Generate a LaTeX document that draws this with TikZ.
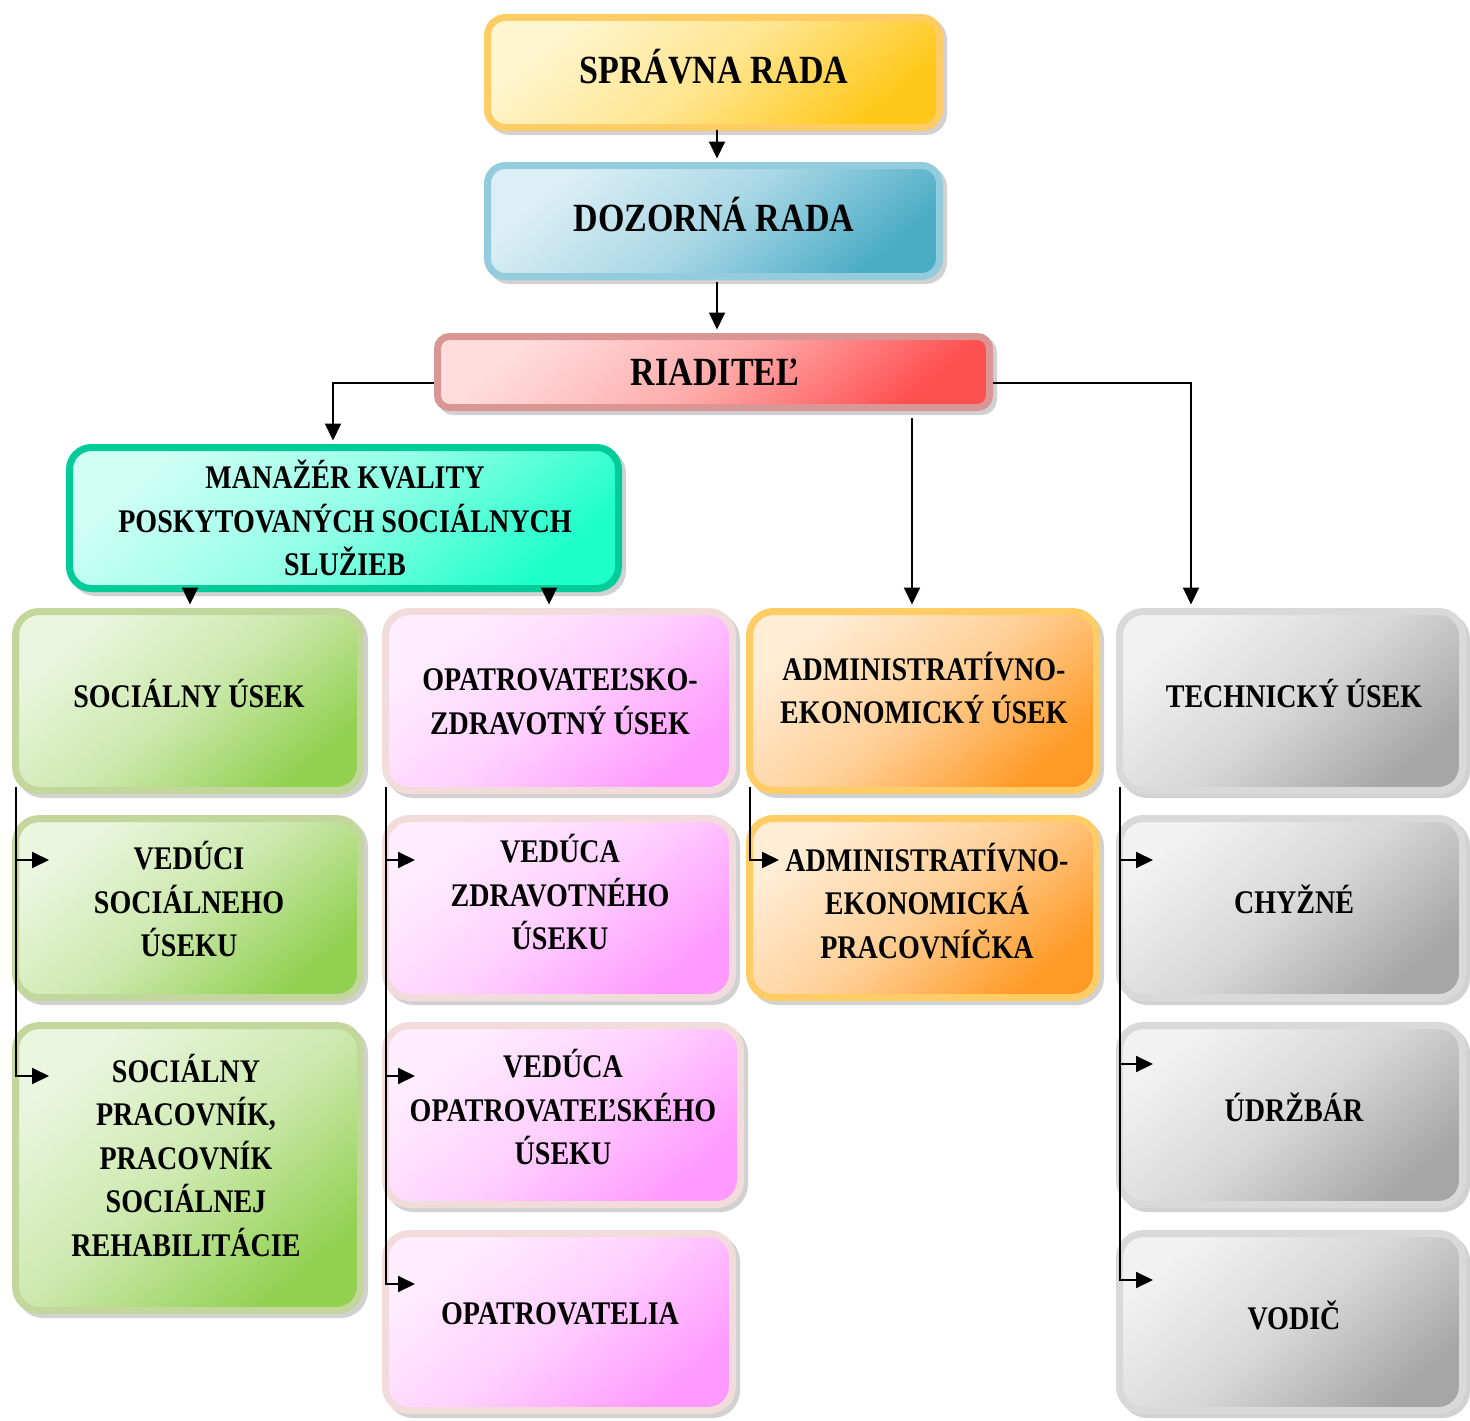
\documentclass[tikz,border=0pt]{standalone}
\usepackage{fontspec}
\newfontfamily\bxfont{Liberation Serif}[FakeStretch=0.85]
\usetikzlibrary{arrows.meta,calc}
\definecolor{yBord}{HTML}{FFCC66}\definecolor{yL}{HTML}{FFF5CF}\definecolor{yD}{HTML}{FFC81A}
\definecolor{bBord}{HTML}{93CDDD}\definecolor{bL}{HTML}{DDEFF6}\definecolor{bD}{HTML}{4BACC6}
\definecolor{rBord}{HTML}{D99694}\definecolor{rL}{HTML}{FFDDDD}\definecolor{rD}{HTML}{FF5050}
\definecolor{tBord}{HTML}{00CC99}\definecolor{tL}{HTML}{D0FFF4}\definecolor{tD}{HTML}{1FFFCC}
\definecolor{gBord}{HTML}{C3D69B}\definecolor{gL}{HTML}{EBF6E0}\definecolor{gD}{HTML}{92D050}
\definecolor{pBord}{HTML}{F2DCDB}\definecolor{pL}{HTML}{FFEEFF}\definecolor{pD}{HTML}{FF99FF}
\definecolor{oBord}{HTML}{FFCC66}\definecolor{oL}{HTML}{FFEDD6}\definecolor{oD}{HTML}{FF9A26}
\definecolor{kBord}{HTML}{D9D9D9}\definecolor{kL}{HTML}{F2F2F2}\definecolor{kD}{HTML}{A6A6A6}
\tikzset{
  box/.style={rectangle, line width=7pt, inner sep=0pt,
    preaction={draw=black!18, fill=black!18, transform canvas={xshift=4pt,yshift=-4pt}}},
  colbox/.style n args={3}{box, draw=#1, top color=#2, bottom color=#3, middle color=#2!65!#3, shading angle=40},
  ybox/.style={colbox={yBord}{yL}{yD}, rounded corners=18pt},
  bbox/.style={colbox={bBord}{bL}{bD}, rounded corners=18pt},
  rbox/.style={colbox={rBord}{rL}{rD}, rounded corners=12pt},
  tbox/.style={colbox={tBord}{tL}{tD}, rounded corners=22pt},
  gbox/.style={colbox={gBord}{gL}{gD}, rounded corners=24pt},
  pbox/.style={colbox={pBord}{pL}{pD}, rounded corners=24pt},
  obox/.style={colbox={oBord}{oL}{oD}, rounded corners=24pt},
  kbox/.style={colbox={kBord}{kL}{kD}, rounded corners=24pt},
  lbl/.style={font=\bxfont\bfseries\fontsize{33}{43.5}\selectfont, align=center, inner sep=0pt},
  big/.style={font=\bxfont\bfseries\fontsize{40}{46}\selectfont, inner sep=0pt},
  arr/.style={line width=2pt, -{Triangle[length=17pt,width=16pt]}},
}
\begin{document}
\begin{tikzpicture}[x=1pt,y=-1pt]
\useasboundingbox (0,0) rectangle (1470,1421);
% boxes
\node[ybox, minimum width=452pt, minimum height=110pt] (sprava) at (713.5,72.5) {};
\node[bbox, minimum width=452pt, minimum height=111pt] (dozorna) at (713.5,221) {};
\node[rbox, minimum width=552pt, minimum height=71pt] (riaditel) at (713.5,372) {};
\node[tbox, minimum width=549pt, minimum height=141pt] (manazer) at (344,518) {};
% row 1
\node[gbox, minimum width=345pt, minimum height=179pt] (soc) at (188,701) {};
\node[pbox, minimum width=347pt, minimum height=179pt] (opz) at (559,701) {};
\node[obox, minimum width=347pt, minimum height=179pt] (adm) at (923,701) {};
\node[kbox, minimum width=343pt, minimum height=179pt] (tech) at (1291,701) {};
% row 2
\node[gbox, minimum width=345pt, minimum height=179pt] (vsoc) at (188,908) {};
\node[pbox, minimum width=347pt, minimum height=179pt] (vzdr) at (559,908) {};
\node[obox, minimum width=347pt, minimum height=179pt] (adm2) at (923,908) {};
\node[kbox, minimum width=343pt, minimum height=179pt] (chyz) at (1291,908) {};
% row 3
\node[gbox, minimum width=345pt, minimum height=285pt] (socpr) at (188,1168) {};
\node[pbox, minimum width=355pt, minimum height=179pt] (vopat) at (563,1115) {};
\node[kbox, minimum width=343pt, minimum height=179pt] (udrz) at (1291,1115) {};
% row 4
\node[pbox, minimum width=347pt, minimum height=177pt] (opatr) at (559,1322) {};
\node[kbox, minimum width=343pt, minimum height=177pt] (vodic) at (1291,1322) {};
% texts
\node[big] (t-sprava) at (714,67) {SPRÁVNA RADA};
\node[big] (t-dozorna) at (714,215) {DOZORNÁ RADA};
\node[big] (t-riaditel) at (715,372) {RIADITEĽ};
\node[lbl] (t-manazer) at (345,518) {MANAŽÉR KVALITY\\POSKYTOVANÝCH SOCIÁLNYCH\\SLUŽIEB};
\node[lbl] (t-soc) at (189,693) {SOCIÁLNY ÚSEK};
\node[lbl] (t-opz) at (560,702) {OPATROVATEĽSKO-\\ZDRAVOTNÝ ÚSEK};
\node[lbl] (t-adm) at (924,688) {ADMINISTRATÍVNO-\\EKONOMICKÝ ÚSEK};
\node[lbl] (t-tech) at (1294,693) {TECHNICKÝ ÚSEK};
\node[lbl] (t-vsoc) at (189,899) {VEDÚCI\\SOCIÁLNEHO\\ÚSEKU};
\node[lbl] (t-vzdr) at (560,892) {VEDÚCA\\ZDRAVOTNÉHO\\ÚSEKU};
\node[lbl] (t-adm2) at (927,901) {ADMINISTRATÍVNO-\\EKONOMICKÁ\\PRACOVNÍČKA};
\node[lbl] (t-chyz) at (1294,899) {CHYŽNÉ};
\node[lbl] (t-socpr) at (186,1155) {SOCIÁLNY\\PRACOVNÍK,\\PRACOVNÍK\\SOCIÁLNEJ\\REHABILITÁCIE};
\node[lbl] (t-vopat) at (563,1107) {VEDÚCA\\OPATROVATEĽSKÉHO\\ÚSEKU};
\node[lbl] (t-udrz) at (1294,1107) {ÚDRŽBÁR};
\node[lbl] (t-opatr) at (560,1314) {OPATROVATELIA};
\node[lbl] (t-vodic) at (1294,1315) {VODIČ};
% connectors
\draw[arr] ($(sprava.south)+(3.5,-1)$) -- ($(dozorna.north)+(3.5,-3.5)$);
\draw[arr] ($(dozorna.south)+(3.5,2)$) -- ($(riaditel.north)+(3.5,-3.5)$);
\draw[arr] ($(riaditel.west)+(0,11)$) -| ($(manazer.north)+(-11,-3.5)$);
\draw[arr] ($(riaditel.east)+(0,11)$) -| ($(tech.north)+(-100,-3.5)$);
\coordinate (admtop) at ($(adm.north)+(-11,-3.5)$);
\coordinate (rbot) at ($(riaditel.south)+(0,7)$);
\draw[arr] (admtop |- rbot) -- (admtop);
\draw[arr] ($(manazer.south)+(-154,-1)$) -- ($(soc.north)+(2,-3.5)$);
\draw[arr] ($(manazer.south)+(205,-1)$) -- ($(opz.north)+(-10,-3.5)$);
% buses
\coordinate (gb) at ($(soc.south west)+(4,-7)$);
\draw[arr] (gb) |- ($(vsoc.west)+(37,-48)$);
\draw[arr] (gb) |- ($(socpr.west)+(37,-92)$);
\coordinate (pb) at ($(opz.south west)+(4,-7)$);
\draw[arr] (pb) |- ($(vzdr.west)+(33,-48)$);
\draw[arr] (pb) |- ($(vopat.west)+(33,-39)$);
\draw[arr] (pb) |- ($(opatr.west)+(33,-38)$);
\coordinate (ob) at ($(adm.south west)+(4,-7)$);
\draw[arr] (ob) |- ($(adm2.west)+(33,-48)$);
\coordinate (kb) at ($(tech.south west)+(4,-7)$);
\draw[arr] (kb) |- ($(chyz.west)+(37,-48)$);
\draw[arr] (kb) |- ($(udrz.west)+(37,-51)$);
\draw[arr] (kb) |- ($(vodic.west)+(37,-42)$);
\end{tikzpicture}
\end{document}
